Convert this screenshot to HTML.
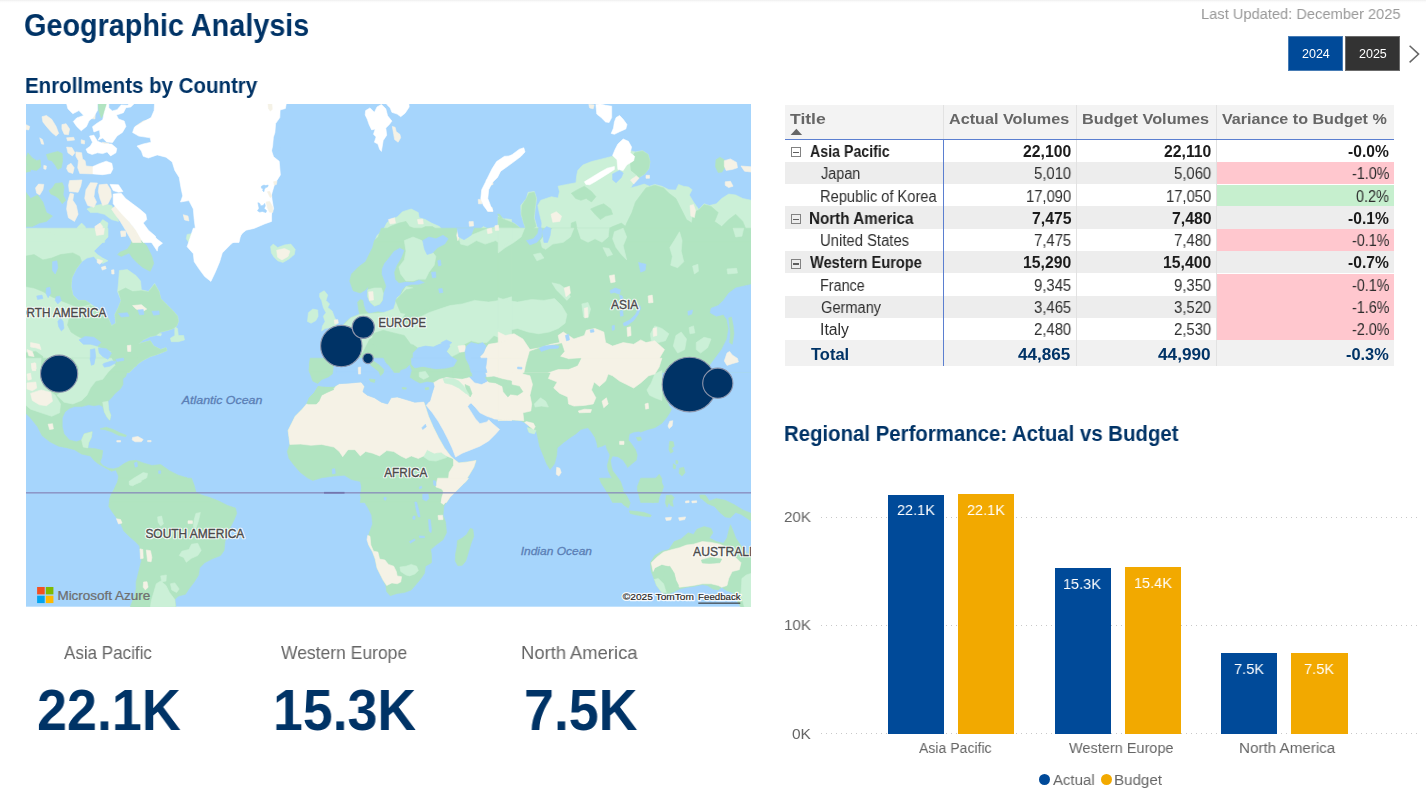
<!DOCTYPE html>
<html lang="en"><head><meta charset="utf-8"><title>Geographic Analysis</title>
<style>
html,body{margin:0;padding:0;background:#fff;}
body{width:1426px;height:796px;position:relative;overflow:hidden;font-family:"Liberation Sans",sans-serif;}
.abs{position:absolute;box-sizing:border-box;}
.t{position:absolute;white-space:nowrap;transform-origin:0 0;display:block;will-change:transform;}
.topline{position:absolute;left:0;top:0;width:1426px;height:3px;background:linear-gradient(#efefef,#fbfbfb 55%,#ffffff);}
.btn{position:absolute;box-sizing:border-box;border:1px solid rgba(255,255,255,.28);}
.grid{position:absolute;left:820.5px;width:600px;height:1px;background:repeating-linear-gradient(90deg,#c8c8c8 0 1px,transparent 1px 5px);}
</style></head>
<body>
<div class="topline"></div>
<span class="t" style="left:23.82px;top:8px;font-size:30.5px;line-height:34px;height:34px;color:#003366;transform:scaleX(0.9438);font-weight:bold;">Geographic Analysis</span>
<span class="t" style="left:1200.60px;top:5px;font-size:15.3px;line-height:17px;height:17px;color:#999999;transform:scaleX(0.9581);">Last Updated: December 2025</span>
<div class="btn" style="left:1288px;top:36px;width:55px;height:35px;background:#004a99;"></div>
<div class="btn" style="left:1345px;top:36px;width:55px;height:35px;background:#333333;"></div>
<span class="t" style="left:1301.66px;top:47px;font-size:12.5px;line-height:14px;height:14px;color:#ffffff;transform:scaleX(0.9849);">2024</span>
<span class="t" style="left:1358.66px;top:47px;font-size:12.5px;line-height:14px;height:14px;color:#ffffff;transform:scaleX(0.9849);">2025</span>
<svg class="abs" style="left:1406px;top:42px" width="18" height="24" viewBox="0 0 18 24"><path d="M3.6 3.8 L12.6 12.1 L3.6 20.4" fill="none" stroke="#666" stroke-width="1.5"/></svg>
<span class="t" style="left:25.37px;top:74px;font-size:21.5px;line-height:24px;height:24px;color:#003366;transform:scaleX(0.9529);font-weight:bold;">Enrollments by Country</span>
<svg class="abs" style="left:26px;top:104px" width="725" height="502.7" viewBox="26 104 725 502.7">
<rect x="26" y="104" width="725" height="502.7" fill="#a6d5fc"/>
<path fill="#cbf0d7" stroke="#cbf0d7" stroke-width=".6" stroke-linejoin="round" d="M86.9,209.0 95.7,205.5 104.4,203.8 111.5,205.5 115.9,212.6 118.5,221.4 111.5,219.6 104.4,214.3 97.4,212.6 90.4,212.6ZM25.3,229.3 37.6,229.3 44.6,231.0 55.2,234.5 64.0,235.4 67.5,238.9 72.8,235.4 78.1,226.6 81.6,223.1 85.1,226.6 86.9,233.7 90.4,237.2 95.7,233.7 97.4,226.6 102.7,219.6 108.0,223.1 106.2,233.7 104.4,242.5 25.3,242.5ZM187.1,234.4 193.3,233.5 194.2,242.3 189.8,244.1 186.3,238.8ZM24.4,228.2 108.0,228.2 108.0,237.0 102.7,242.3 97.4,247.6 93.9,251.1 97.4,254.6 102.7,258.1 108.0,260.8 102.7,263.4 97.4,260.8 93.9,256.4 86.9,258.1 81.6,261.7 76.3,268.7 71.9,277.5 71.0,286.3 72.8,295.1 78.1,300.4 85.1,300.4 90.4,303.9 95.7,307.4 102.7,312.7 108.0,317.9 111.5,325.9 115.9,323.2 115.0,314.4 118.5,307.4 121.2,300.4 117.6,291.6 118.5,282.8 119.4,270.5 127.3,269.6 136.1,275.7 140.5,281.0 141.4,289.8 148.4,291.6 154.6,283.6 159.0,291.6 160.7,298.6 166.0,303.9 173.1,310.9 177.5,316.2 178.3,321.5 176.6,325.9 173.1,328.5 167.8,330.3 160.7,332.0 155.5,335.5 150.2,336.4 143.2,339.9 137.9,344.3 143.2,342.6 150.2,340.8 153.7,346.1 160.7,349.6 166.0,347.8 166.9,350.5 160.7,353.1 155.5,354.9 150.2,356.6 143.2,360.2 137.9,363.7 134.4,367.2 129.1,372.5 24.4,372.5ZM174.8,326.7 177.5,328.5 178.3,335.5 183.6,335.5 184.5,339.9 178.3,341.7 171.3,341.7 170.4,338.2 174.8,335.5ZM156.3,332.9 161.6,333.8 160.7,335.9 156.9,335.2ZM115.9,344.3 125.6,342.6 132.6,345.2 131.7,352.2 123.8,353.1 116.8,351.4ZM374.4,242.5 377.0,235.4 383.2,230.2 386.7,223.1 390.2,219.6 397.2,217.0 402.5,211.7 411.3,209.0 418.3,212.6 419.2,217.8 425.4,219.6 431.5,223.1 439.5,226.6 444.7,233.7 449.1,242.5ZM466.7,242.5 469.4,235.4 478.2,231.0 483.4,226.6 488.7,229.3 495.7,226.6 501.0,221.4 505.4,218.7 511.6,219.6 511.6,242.5ZM270.6,246.7 273.2,244.1 277.6,247.6 284.6,244.9 290.8,244.1 295.2,249.3 294.3,254.6 289.0,259.0 282.9,262.5 277.6,260.8 274.1,257.3 271.4,252.9ZM498.2,216.1 505.3,219.6 514.1,223.1 519.4,227.5 523.8,232.8 526.4,230.2 523.8,223.1 521.1,214.3 520.8,205.5 526.4,198.5 528.1,192.3 534.3,191.5 536.6,198.5 535.2,209.0 534.3,217.8 536.9,226.6 541.3,231.0 541.9,223.1 539.6,214.3 537.8,205.5 540.8,200.3 546.1,198.5 551.4,196.7 558.1,198.1 559.5,191.5 558.1,186.2 566.9,184.4 576.0,182.7 576.7,175.6 577.8,170.4 582.7,165.1 591.5,161.6 602.0,158.9 612.6,156.3 616.1,152.8 623.2,149.2 635.5,151.9 642.5,150.7 648.1,154.5 649.9,161.6 648.8,168.6 644.6,173.9 639.0,177.4 634.1,182.7 630.5,187.9 637.2,186.2 644.3,184.1 649.5,186.2 654.8,184.4 661.9,186.2 668.9,189.7 675.9,190.1 678.6,184.4 683.3,186.2 688.6,187.1 692.1,189.7 689.3,195.0 693.5,202.0 698.8,209.4 704.1,203.8 709.4,205.5 716.4,203.8 721.7,198.5 728.7,194.1 735.7,195.0 742.8,198.5 751.6,200.3 751.6,242.5 498.2,242.5Z"/>
<path fill="#b1e4c1" stroke="#b1e4c1" stroke-width=".6" stroke-linejoin="round" d="M97.8,101.8 107.6,101.8 104.1,113.2 101.3,117.9 98.8,110.6ZM27.9,152.8 32.3,158.0 36.7,160.7 40.2,159.8 40.8,166.8 36.7,170.4 30.6,169.5 27.0,166.0 25.3,159.8ZM25.3,165.4 29.7,166.5 30.6,171.2 25.3,172.5ZM52.5,152.8 57.8,151.4 62.2,153.6 62.6,160.7 61.3,167.7 57.8,169.5 55.2,165.1 51.7,160.7 48.1,159.8 46.4,154.5ZM55.2,183.5 62.2,182.7 64.0,187.1 63.1,195.0 65.7,200.3 62.2,203.8 58.7,198.5 55.2,195.9 50.8,194.1 49.0,190.6 52.5,187.9ZM25.3,191.5 30.6,198.5 37.6,195.0 42.9,202.0 46.4,212.6 52.5,216.1 46.4,221.4 39.4,223.1 32.3,226.6 25.3,226.6ZM132.6,238.8 136.1,237.0 141.4,240.6 146.7,245.8 151.9,256.4 153.7,263.4 150.2,271.3 143.2,267.8 137.9,263.4 132.6,258.1 129.1,252.9 125.6,254.6 121.2,256.4 117.6,254.6 120.3,252.0 127.3,249.3 130.8,244.1ZM24.4,256.4 34.1,254.6 42.9,259.9 51.7,258.1 60.5,254.6 72.8,252.9 79.8,256.4 81.6,261.7 76.3,268.7 71.9,277.5 71.0,286.3 72.8,295.1 78.1,300.4 85.1,300.4 90.4,303.9 78.1,307.4 69.3,303.9 60.5,300.4 51.7,296.8 42.9,291.6 34.1,288.0 24.4,286.3ZM72.8,314.4 78.1,309.1 85.1,307.4 90.4,305.6 95.7,307.4 102.7,312.7 108.0,317.9 111.5,325.9 115.9,323.2 115.0,314.4 118.5,307.4 121.2,300.4 118.5,291.6 125.6,288.0 132.6,291.6 141.4,290.7 148.4,291.9 154.6,284.2 159.0,291.6 160.7,298.6 166.0,303.9 173.1,310.9 177.5,316.2 178.3,321.5 176.6,325.9 173.1,328.5 167.8,330.3 160.7,332.0 155.5,335.5 150.2,336.4 143.2,339.9 137.9,344.3 143.2,342.6 150.2,340.8 153.7,346.1 160.7,349.6 166.0,347.8 166.9,350.5 160.7,353.1 155.5,354.9 150.2,356.6 143.2,360.2 137.9,363.7 134.4,367.2 129.1,372.5 104.4,372.5 102.7,363.7 108.0,356.6 111.5,351.4 104.4,349.6 97.4,346.1 90.4,342.6 83.3,339.0 76.3,335.5 71.0,332.0 67.5,325.0 69.3,317.9ZM24.4,353.1 35.8,351.4 42.9,356.6 41.1,372.5 24.4,372.5ZM24.4,358.2 137.9,358.2 138.2,362.1 136.1,366.2 132.6,367.0 127.7,370.6 125.6,376.7 122.9,378.5 122.9,384.6 120.3,389.0 115.0,393.4 111.5,397.8 108.0,401.3 107.1,405.7 108.8,410.1 110.8,415.4 109.7,420.2 107.1,417.2 104.4,411.9 102.7,406.6 99.2,404.8 93.9,405.7 88.6,404.8 81.6,406.6 74.5,406.6 69.3,408.4 64.9,411.9 62.2,418.0 62.2,426.8 64.0,433.9 69.3,440.0 76.3,441.8 81.6,440.0 84.2,433.9 92.1,431.8 91.3,437.4 88.6,442.7 87.7,447.9 95.7,448.8 102.7,450.6 101.8,457.6 100.0,462.0 102.7,465.5 108.0,468.2 113.2,469.0 118.5,467.6 123.8,463.8 129.1,461.1 136.1,460.3 143.2,462.9 151.9,465.5 160.7,464.6 169.5,470.8 178.3,475.2 187.1,477.8 192.4,483.1 194.2,490.2 197.7,493.7 206.5,497.2 211.8,502.5 110.6,502.5 109.7,498.9 111.5,493.7 115.0,488.4 117.6,483.1 118.5,476.1 115.9,469.9 111.5,471.2 104.4,467.3 98.3,463.8 93.9,460.3 90.4,455.9 81.6,454.1 74.5,449.7 67.5,447.9 58.7,446.2 49.9,441.8 42.0,435.6 37.6,426.8 30.6,418.0 24.4,411.9ZM100.0,428.9 106.2,427.2 113.2,429.5 120.3,433.0 126.4,435.3 125.6,436.7 118.5,435.3 111.5,431.8 104.4,429.6ZM191.5,478.2 194.2,485.3 195.9,492.3 201.2,494.9 210.0,497.6 218.8,501.1 227.6,505.5 235.5,508.1 236.7,513.4 233.8,520.5 230.2,527.5 226.7,534.5 225.0,541.6 224.1,550.4 220.6,555.6 211.8,559.1 204.7,562.7 199.5,567.9 198.6,575.0 194.2,582.0 188.9,589.0 185.4,594.3 178.3,596.1 174.8,599.6 176.2,609.3 129.4,609.3 131.7,603.1 134.4,596.1 136.1,589.0 136.1,582.0 137.9,575.0 139.6,567.9 141.4,560.9 140.5,553.9 139.6,546.0 134.4,540.7 129.1,536.3 123.8,531.0 120.3,523.1 115.9,516.9 111.5,510.8 108.8,506.4 109.7,499.3 112.4,493.2 115.9,485.3 119.4,478.2ZM377.0,240.7 383.2,231.0 390.2,226.6 399.0,223.1 406.0,221.4 409.5,226.6 418.3,230.2 425.4,226.6 432.4,226.6 443.0,233.7 448.2,242.5 376.1,242.5ZM497.5,214.0 499.6,214.3 502.4,218.2 500.1,217.8ZM511.6,228.2 511.6,372.5 310.1,372.5 309.3,363.7 311.0,359.3 318.1,359.3 326.9,360.2 333.9,358.4 335.7,351.4 333.9,342.6 330.4,335.5 327.7,330.6 335.7,328.5 342.7,325.9 346.2,321.5 350.6,317.9 355.0,316.2 359.6,314.4 358.5,309.1 357.6,302.1 360.3,299.5 362.9,300.4 363.8,305.6 365.6,310.9 369.1,313.7 372.6,313.0 377.9,311.8 383.2,312.7 390.2,311.8 393.7,309.1 395.5,303.9 397.2,297.7 400.7,295.1 402.5,289.8 406.0,286.6 411.3,284.9 418.3,284.9 425.4,282.8 419.2,279.6 413.1,281.9 406.0,281.4 399.0,282.8 395.5,279.2 394.6,272.2 397.2,265.2 401.6,258.1 404.6,250.2 399.9,247.6 393.7,251.1 388.4,258.1 384.0,263.4 381.7,268.7 381.4,274.0 384.0,281.0 385.8,286.3 383.2,293.3 382.3,300.4 379.6,304.2 374.4,306.0 370.0,302.1 367.7,296.8 368.2,286.3 365.6,289.8 360.3,293.0 353.2,290.7 349.7,281.0 351.5,274.0 358.5,266.9 365.6,261.7 369.1,254.6 372.6,247.6 374.4,240.6 378.2,237.0 381.4,228.2ZM318.1,386.4 320.7,386.7 333.9,386.4 339.2,383.7 351.5,382.9 361.2,382.0 364.7,386.4 362.9,391.7 367.3,395.2 374.4,397.8 381.4,402.2 387.6,404.0 391.1,397.8 397.2,396.9 406.0,399.6 414.8,402.2 423.6,401.5 425.4,406.6 428.5,416.3 433.1,426.8 438.4,437.4 444.4,447.9 450.4,455.9 453.5,458.8 458.8,462.9 467.6,462.0 476.0,460.6 473.8,467.3 468.5,476.1 462.3,484.9 455.3,491.9 450.0,497.2 446.5,502.5 360.3,502.5 361.2,495.4 362.0,488.4 360.3,481.4 351.5,479.6 344.4,475.2 333.9,476.1 321.6,477.8 312.8,480.5 307.5,477.8 300.5,472.6 294.3,465.5 289.0,458.5 287.3,451.5 289.9,444.4 289.0,437.4 288.1,430.4 291.7,423.3 295.2,416.3 302.2,409.2 306.6,404.0 309.3,397.8 314.5,392.5ZM310.1,358.2 335.7,358.2 333.9,367.0 333.0,374.1 328.6,377.6 321.6,380.2 318.1,383.7 312.8,381.1 311.0,375.8 308.9,370.6ZM408.7,371.4 414.8,367.9 423.6,366.2 434.2,365.3 444.7,367.0 453.5,365.3 462.3,368.8 467.6,367.0 471.1,372.3 469.4,377.6 462.3,379.3 453.5,378.5 446.5,377.6 439.5,379.3 433.3,382.9 427.1,382.0 420.1,383.7 414.8,381.1 409.5,377.6ZM453.5,358.2 471.1,358.2 479.9,368.8 483.4,374.1 478.2,377.6 471.1,375.8 462.3,379.3 453.5,378.5ZM468.5,478.2 465.8,481.8 457.0,488.8 451.8,494.1 447.4,499.3 443.8,506.4 443.0,515.2 445.6,522.2 446.5,532.8 443.0,539.8 435.9,545.1 430.7,549.5 431.5,555.6 431.5,562.7 425.4,566.2 424.5,573.2 421.0,578.5 416.6,583.8 411.3,589.9 404.3,592.6 397.2,593.4 390.2,595.7 386.7,591.7 385.8,585.5 381.4,576.7 377.0,567.9 375.2,559.1 372.6,552.1 368.7,545.1 367.7,538.0 370.0,531.0 372.6,524.0 371.7,515.2 368.2,508.1 363.8,501.1 360.3,495.8 361.7,487.0 361.2,478.2ZM470.2,528.4 472.9,529.2 473.8,536.3 471.1,543.3 468.5,552.1 465.8,560.9 462.3,565.3 457.9,565.8 455.3,560.9 455.6,553.9 457.0,546.8 457.4,540.7 462.3,538.0 466.7,534.5ZM626.7,242.5 623.2,231.9 626.7,223.1 631.9,212.6 635.5,202.0 640.7,195.0 646.0,187.9 654.8,185.3 663.6,187.9 668.9,193.2 675.9,198.5 681.2,209.0 686.5,219.6 691.8,223.1 693.5,212.6 698.8,209.9 704.1,204.6 711.1,206.4 718.2,212.6 714.6,221.4 721.7,226.6 728.7,219.6 735.7,214.3 742.8,221.4 746.3,230.2 751.6,233.7 751.6,242.5ZM522.0,205.5 526.4,198.5 529.0,193.2 534.3,192.3 536.1,198.5 534.8,209.0 533.8,217.8 536.1,226.6 531.7,229.3 526.4,229.8 523.8,223.1 521.5,214.3ZM571.3,193.2 577.4,189.7 584.4,186.2 591.5,191.5 595.9,196.7 591.5,202.0 586.2,198.5 580.9,200.3 575.7,198.5ZM590.6,209.0 598.5,205.5 603.8,203.8 610.8,209.0 612.6,214.3 605.6,216.1 600.3,219.6 595.0,214.3ZM634.6,152.8 642.5,151.0 648.1,154.5 649.9,161.6 648.8,168.6 644.6,173.9 639.0,177.4 635.5,173.9 631.1,170.4 630.2,161.6ZM571.3,223.1 575.7,221.4 577.4,230.2 573.9,240.7 570.4,238.9ZM605.6,230.2 612.6,226.6 621.4,223.1 625.8,226.6 623.2,237.2 616.1,242.5 607.3,242.5ZM498.2,217.0 505.3,219.9 514.1,223.5 519.4,227.5 522.9,232.8 521.1,242.5 498.2,242.5ZM716.0,159.8 719.9,157.2 724.3,159.8 725.2,166.8 722.0,172.1 718.2,172.5 715.5,166.8ZM498.2,228.2 751.6,228.2 751.6,372.5 498.2,372.5ZM498.2,358.2 661.9,358.2 661.9,384.6 665.4,395.2 668.9,405.7 671.5,409.2 669.8,412.8 666.3,418.0 661.9,423.3 654.8,427.7 647.8,429.5 640.7,432.1 639.0,431.2 633.7,432.1 629.3,433.9 628.4,440.0 631.9,444.4 635.5,449.7 637.2,455.0 636.3,460.3 631.9,463.8 627.6,467.6 626.7,465.5 623.2,460.3 617.9,456.7 612.6,455.9 610.5,460.3 611.2,465.5 612.6,470.8 616.1,475.2 620.5,481.4 622.3,486.6 623.5,489.8 621.4,489.4 617.9,485.8 614.4,481.4 610.8,476.1 608.2,470.8 607.3,465.5 608.7,460.3 610.0,455.0 607.3,449.7 605.6,444.4 602.0,446.2 597.6,447.4 596.8,442.7 595.0,437.4 591.5,432.1 588.0,427.7 584.4,428.6 580.9,429.5 575.7,433.9 570.4,437.4 563.3,442.7 557.2,447.9 556.7,455.0 554.5,463.8 550.1,469.4 546.6,463.8 543.1,455.0 539.6,446.2 537.8,437.4 536.1,430.4 533.4,429.5 531.7,433.0 528.1,431.2 529.0,426.0 524.6,422.4 521.1,420.7 510.6,419.8 498.2,420.7ZM636.3,437.4 640.7,437.0 641.6,440.0 638.1,440.9ZM669.8,441.3 673.3,441.8 674.2,446.2 671.5,447.9 673.3,451.5 670.7,453.2 668.9,449.7 669.2,444.4ZM675.9,460.3 678.0,461.1 677.7,463.8 675.9,463.4ZM679.5,468.2 683.8,467.3 685.1,472.6 682.1,476.1 679.1,473.4ZM673.3,463.8 675.9,465.5 675.1,469.0 673.3,468.2ZM599.4,478.2 603.8,479.6 609.1,484.9 614.4,491.0 619.6,498.9 622.3,502.5 612.6,502.5 609.1,495.4 604.7,488.4 601.2,483.1ZM637.2,489.3 642.5,486.6 649.5,484.0 654.8,479.6 659.2,474.3 661.0,477.0 661.9,483.1 663.6,486.6 661.9,491.9 659.2,497.2 658.3,502.5 640.7,502.5 639.0,495.4ZM699.7,495.4 705.0,495.1 705.8,498.1 700.6,498.6ZM666.3,495.4 669.8,496.3 671.5,500.7 667.1,500.7ZM600.3,478.2 612.6,478.2 619.6,487.0 626.7,495.8 630.2,502.9 628.4,508.1 623.2,504.6 617.9,497.6 612.6,490.6 607.3,485.3 602.9,481.8ZM629.3,510.8 635.5,511.3 644.3,512.5 651.3,515.2 650.4,516.9 642.5,516.1 635.5,514.8 630.2,513.4ZM640.7,478.2 661.9,478.2 661.0,487.0 659.2,494.1 655.7,501.1 653.1,502.9 647.8,500.2 642.5,497.6 639.0,492.3 637.2,487.0ZM666.3,495.8 671.5,494.9 674.2,497.6 672.4,501.1 673.3,506.4 670.7,505.5 668.9,502.0 667.1,507.3 665.4,502.9ZM700.6,494.9 705.8,495.8 709.4,501.1 716.4,498.5 725.2,500.2 734.0,504.6 742.8,509.9 751.6,513.4 751.6,521.3 746.3,517.8 741.0,514.3 735.7,512.5 730.5,517.8 725.2,516.9 719.9,512.5 714.6,506.4 707.6,503.7 702.3,499.3ZM650.4,562.7 654.8,555.6 661.9,551.2 668.9,549.5 674.2,541.6 681.2,538.9 688.2,532.8 693.5,534.5 697.0,529.2 704.1,526.6 711.1,528.4 712.9,532.8 709.4,538.0 716.4,541.6 723.4,543.3 727.0,538.0 728.7,531.0 730.5,524.8 733.1,531.0 735.7,538.0 739.3,543.3 744.5,550.4 751.6,557.4 751.6,609.3 741.0,607.5 737.5,601.4 732.2,592.6 727.0,590.8 721.7,587.3 718.2,589.9 712.9,589.0 707.6,585.5 702.3,584.6 693.5,586.4 686.5,587.3 679.5,589.0 672.4,592.6 667.1,594.3 661.9,592.6 656.6,585.5 653.9,578.5 651.3,571.5Z"/>
<path fill="#cbf0d7" stroke="#cbf0d7" stroke-width=".6" stroke-linejoin="round" d="M72.8,358.2 111.5,358.2 115.0,365.3 108.0,372.3 102.7,379.3 95.7,381.1 90.4,388.1 86.9,395.2 81.6,400.5 72.8,404.0 64.0,402.2 56.9,395.2 78.1,381.1 78.9,367.0ZM24.4,358.2 41.1,358.2 40.2,374.1 42.9,386.4 55.2,395.2 60.5,404.0 59.6,412.8 51.7,416.3 41.1,412.8 30.6,409.2 24.4,404.0ZM129.1,481.4 134.4,477.8 143.2,472.6 147.6,473.4 146.7,477.8 139.6,481.4 132.6,485.8 129.4,484.9ZM102.7,402.2 108.0,401.3 108.8,410.1 110.8,415.4 109.7,420.2 107.1,417.2 104.4,411.9ZM81.6,440.0 84.2,433.9 92.1,431.8 91.3,437.4 88.6,442.7 87.7,447.9 83.3,447.1ZM156.3,583.8 160.7,581.1 166.0,585.5 169.5,592.6 174.8,599.6 175.7,609.3 150.2,609.3 151.1,601.4 153.7,592.6ZM157.6,516.9 161.6,516.1 163.4,524.0 160.7,526.1 158.1,522.2ZM195.9,513.4 200.3,512.5 198.6,520.5 195.9,528.4 193.3,526.6 194.2,519.6ZM191.5,544.2 197.7,543.3 201.2,550.4 197.7,555.6 191.5,558.3 186.3,562.3 183.6,557.4 179.2,555.6 181.9,551.2 188.9,549.5ZM160.7,575.9 166.4,575.0 166.0,581.1 161.6,582.0ZM170.4,583.8 174.8,582.9 179.2,589.0 176.6,592.6 171.7,589.9ZM129.4,481.4 139.6,479.1 141.4,481.8 132.6,485.3ZM404.3,240.6 413.1,237.0 421.9,240.6 428.9,247.6 435.9,256.4 434.2,265.2 428.9,272.2 425.4,279.2 418.3,279.2 413.1,281.0 406.0,281.0 400.7,274.0 399.0,266.9 404.3,259.9 406.0,251.1ZM393.7,328.5 400.7,325.0 411.3,323.2 418.3,317.9 428.9,312.7 439.5,309.1 450.0,305.6 462.3,303.9 474.6,300.4 488.7,302.1 499.3,300.4 511.6,296.8 511.6,335.5 502.8,339.0 494.0,335.5 487.0,342.6 478.2,342.6 471.1,340.8 464.1,344.3 458.8,353.1 451.8,356.6 446.5,351.4 450.0,346.1 444.7,342.6 439.5,344.3 433.3,347.0 425.4,346.1 418.3,347.8 413.1,344.3 406.0,342.6 400.7,335.5ZM367.7,289.8 374.4,288.0 381.4,288.0 383.2,293.3 382.3,300.4 379.6,304.2 374.4,306.0 370.0,302.1 367.7,296.8ZM458.8,237.0 471.1,235.3 488.7,228.2 511.6,228.2 511.6,240.6 502.8,245.8 495.7,240.6 485.2,244.1 476.4,240.6 467.6,245.8 460.6,244.1ZM342.7,325.9 350.6,317.9 359.6,314.4 369.1,313.7 383.2,312.7 393.7,309.1 397.2,297.7 400.7,295.1 406.0,286.6 413.1,288.0 414.8,296.8 411.3,305.6 406.0,312.7 400.7,319.7 397.2,325.0 393.7,328.5 400.7,335.5 397.2,342.6 390.2,344.3 383.2,342.6 376.1,335.5 369.1,339.0 365.6,346.1 362.0,353.1 335.7,351.4 333.9,342.6 330.4,335.5 327.7,330.6 335.7,328.5ZM319.8,293.3 324.2,290.7 327.7,295.1 326.0,300.4 329.5,303.9 327.7,307.4 332.1,310.9 334.8,317.9 337.4,321.5 335.7,325.9 330.4,327.6 325.1,328.5 321.6,331.1 322.5,325.9 325.1,321.5 323.3,316.2 326.0,312.7 323.3,307.4 321.6,300.4 319.5,296.8ZM308.4,312.7 312.8,309.1 317.7,310.0 318.1,316.2 315.9,320.6 311.0,323.2 307.5,321.5ZM424.5,450.6 430.7,449.7 435.9,453.2 444.7,452.3 446.5,457.6 435.9,461.1 428.9,460.3 423.6,456.7ZM419.2,372.3 425.4,371.4 428.9,376.7 423.6,379.3 419.2,376.7ZM399.9,567.1 406.0,566.2 411.3,564.4 416.6,566.2 418.3,570.6 414.8,574.1 409.5,575.9 406.0,575.0 400.7,571.5ZM498.2,228.2 524.6,228.2 521.1,237.0 514.1,242.3 505.3,247.6 498.2,252.9ZM540.5,240.6 545.7,233.5 552.8,228.2 573.9,228.2 570.4,237.0 563.3,242.3 552.8,244.1 545.7,249.3 542.2,247.6ZM577.4,228.2 609.1,228.2 608.2,237.0 602.0,242.3 595.0,238.8 588.0,242.3 580.9,238.8ZM614.4,231.8 623.2,228.2 626.7,237.0 623.2,245.8 626.7,259.9 621.4,254.6 616.1,247.6 612.6,238.8ZM602.9,247.6 609.1,248.5 612.6,254.6 607.3,256.4ZM533.4,254.6 540.5,252.9 544.0,258.1 536.9,260.8ZM674.2,240.6 679.5,231.8 682.1,240.6 681.2,251.1 683.8,261.7 677.7,267.8 670.7,265.2 672.4,256.4 669.8,247.6ZM692.6,266.1 697.9,264.3 698.5,271.3 694.4,274.0ZM727.0,269.0 736.6,268.3 737.5,273.1 727.8,274.0ZM733.1,228.2 743.7,228.2 741.9,236.2 735.7,237.0ZM498.2,297.7 507.0,300.4 517.6,302.1 531.7,299.5 544.0,300.4 554.5,298.6 561.6,305.6 566.9,314.4 565.1,323.2 558.1,328.5 549.3,332.0 538.7,333.8 528.1,332.0 517.6,328.5 508.8,330.3 498.2,328.5ZM551.9,282.8 559.8,284.5 566.9,289.8 570.4,296.8 566.9,300.4 561.6,295.1 556.3,289.8ZM581.8,303.9 588.0,302.5 590.6,309.1 588.0,317.9 583.6,317.1ZM675.9,335.5 681.2,332.0 686.5,339.0 684.7,349.6 677.7,353.1 673.3,346.1ZM696.2,342.6 704.1,337.3 711.1,339.0 707.6,347.8 700.6,353.1 696.2,349.6ZM689.1,327.6 693.5,325.9 694.9,332.9 690.0,333.8ZM650.4,333.8 654.8,325.9 661.9,328.5 668.9,333.8 665.4,340.8 658.3,342.6 651.3,340.8ZM654.8,374.1 661.9,370.6 661.9,400.5 654.8,397.8 649.5,395.2 646.9,389.9 651.3,382.9ZM534.3,404.0 540.5,397.8 545.7,401.3 548.4,407.1 541.3,406.1 535.2,407.1ZM527.3,427.7 533.4,429.5 536.1,430.4 534.3,433.9 529.0,432.5ZM523.8,363.5 529.9,361.8 535.2,367.0 529.9,370.6 524.6,368.8Z"/>
<path fill="#b1e4c1" stroke="#b1e4c1" stroke-width=".6" stroke-linejoin="round" d="M372.6,333.8 383.2,330.3 393.7,332.9 404.3,335.5 409.5,342.6 414.8,353.1 409.5,360.2 400.7,363.7 393.7,360.2 386.7,353.1 379.6,349.6 372.6,344.3ZM395.5,300.4 406.0,289.8 414.8,288.0 427.1,289.8 439.5,288.0 446.5,293.3 443.0,300.4 435.9,305.6 427.1,309.1 418.3,312.7 409.5,314.4 400.7,312.7Z"/>
<path fill="#f5f2e6" stroke="#f5f2e6" stroke-width=".6" stroke-linejoin="round" d="M135.2,126.4 143.2,121.1 150.5,119.0 149.8,123.7 141.4,128.1 136.1,129.5ZM183.3,214.7 188.0,216.1 188.9,221.0 184.5,219.9ZM84.7,103.2 91.8,103.5 92.5,108.4 86.9,108.8ZM89.0,112.7 95.3,113.4 94.9,119.0 90.0,118.3ZM102.3,142.2 108.8,143.3 108.0,149.6 102.7,148.5ZM42.0,116.7 46.4,115.5 51.7,119.3 56.1,126.4 58.7,133.4 56.1,136.1 51.7,132.5 46.4,126.4 42.9,122.0ZM61.9,124.6 66.1,123.7 69.6,129.0 68.4,134.8 64.3,134.3 61.9,129.0ZM66.6,137.8 73.7,137.3 74.5,140.1 67.5,140.8ZM81.2,139.7 84.7,140.8 84.4,144.0 81.2,143.3ZM25.3,124.3 29.7,126.4 28.8,129.9 25.3,129.5ZM39.7,137.8 42.5,139.6 43.8,144.3 41.5,144.0ZM66.6,147.1 71.9,147.5 74.9,152.8 72.4,155.9 67.9,152.8ZM75.9,151.9 81.6,152.8 82.5,158.9 85.1,160.7 86.0,166.0 93.9,166.8 93.0,173.9 79.8,173.5 77.7,167.7 78.4,160.7 75.9,156.3ZM67.5,165.4 71.0,163.3 74.2,167.7 72.8,173.5 68.4,172.1 66.6,168.6ZM43.8,165.4 46.4,166.0 46.0,169.3 43.8,168.9ZM69.6,180.6 81.9,180.0 80.7,186.2 78.1,192.3 69.3,191.5 68.6,185.3ZM35.5,187.9 38.5,184.1 43.8,184.4 42.9,189.7 39.7,195.0 36.7,193.2ZM90.4,182.7 97.4,183.0 94.8,189.7 93.9,196.7 96.5,202.0 93.9,207.3 87.7,205.5 84.7,198.5 86.0,189.7ZM99.2,184.8 107.1,184.1 110.6,189.7 111.5,196.7 108.0,203.8 102.7,205.5 100.0,198.5 98.3,191.5ZM115.9,205.5 123.8,212.6 129.1,221.4 136.1,230.2 141.4,242.5 132.6,242.5 125.6,230.2 120.3,221.4 115.0,214.3 111.5,209.0ZM70.1,193.2 73.7,194.1 72.8,200.3 76.3,205.5 78.1,214.3 74.5,221.4 68.4,217.8 66.6,209.0 67.5,202.0ZM121.2,231.0 125.6,231.6 125.6,236.3 121.7,236.3ZM94.8,226.6 100.0,223.1 102.7,226.6 100.9,233.7 96.5,235.4ZM132.6,228.2 143.2,228.2 144.9,237.0 141.4,240.6 136.1,237.0ZM120.6,231.4 125.2,230.9 125.6,235.6 121.2,236.7ZM95.7,228.2 104.4,228.2 103.6,234.4 97.4,235.3ZM101.3,267.3 105.3,266.1 106.2,268.7 102.3,270.1ZM111.5,270.1 113.9,269.7 114.1,274.0 111.8,274.0ZM97.4,259.0 102.7,260.8 100.0,264.3 97.1,262.5ZM127.3,345.6 130.8,345.2 130.8,351.4 127.7,351.4ZM132.6,305.6 141.4,304.7 146.7,309.1 143.2,311.3 136.1,309.1ZM30.6,342.6 39.4,344.3 41.1,349.6 35.8,347.8 30.6,347.0ZM27.0,349.6 32.3,351.4 34.1,356.6 28.8,355.8ZM31.4,363.7 35.0,362.8 35.8,370.7 32.3,370.7ZM27.0,374.1 30.6,373.2 31.4,379.3 27.9,380.2ZM27.0,382.9 35.8,382.0 36.7,388.1 32.3,390.8 27.0,389.0ZM30.6,393.4 41.1,389.9 50.8,392.5 52.5,401.3 46.4,405.7 39.4,404.8 32.3,400.5ZM48.1,424.2 52.5,423.7 53.4,428.9 49.6,429.5ZM31.4,363.5 35.8,363.2 36.2,368.8 32.0,369.1ZM132.6,437.4 137.9,436.5 143.2,439.5 141.4,441.8 135.2,441.8 132.2,440.0ZM116.8,440.6 120.6,440.6 120.6,442.0 116.8,442.0ZM147.6,440.6 151.1,440.6 151.1,441.8 147.6,441.8ZM116.4,518.7 120.6,519.6 122.0,523.1 118.5,524.0ZM140.0,548.9 142.8,549.5 143.2,558.3 140.5,558.8ZM146.3,550.0 150.5,550.7 151.9,557.4 151.1,561.8 147.6,561.3ZM143.5,582.0 147.0,581.7 148.1,587.3 145.3,589.9 143.2,587.3ZM188.0,520.8 192.4,520.8 192.4,523.6 188.0,523.6ZM392.3,126.4 395.1,127.3 396.3,131.7 399.9,134.3 400.7,137.8 398.1,142.2 394.6,139.6 393.7,134.3ZM486.1,180.0 492.2,179.1 493.1,184.4 487.8,186.2ZM478.2,199.4 481.7,199.4 482.0,203.8 478.5,203.8ZM487.0,207.3 492.2,207.6 492.6,211.5 487.3,211.2ZM388.4,219.6 394.6,217.8 395.5,223.1 390.2,224.0ZM417.5,219.6 422.7,219.2 423.3,224.0 418.3,224.0ZM469.0,221.7 473.2,221.4 473.6,225.9 469.4,226.3ZM457.9,229.8 462.3,229.3 463.2,233.7 459.7,235.4 457.9,240.7 456.7,235.4ZM487.0,229.3 491.4,228.0 492.2,232.8 487.8,233.7ZM494.9,225.8 498.4,225.2 498.9,230.2 495.4,230.5ZM276.7,250.2 284.6,248.5 289.9,251.1 288.1,256.4 282.0,259.9 277.6,257.3ZM368.7,291.9 372.9,291.6 373.5,300.0 369.4,300.4ZM488.7,344.3 499.3,342.6 511.6,339.0 511.6,372.5 487.0,372.5 486.1,368.9 482.6,363.7 479.9,356.6 483.4,353.1 486.1,347.8ZM457.9,346.1 465.0,345.2 465.8,351.4 459.7,352.2ZM334.2,320.1 337.8,319.7 338.3,323.2 334.8,324.1ZM306.6,404.0 316.3,404.0 318.9,401.3 321.6,395.2 326.9,392.5 333.9,389.0 335.7,386.4 339.2,383.7 351.5,382.9 361.2,382.0 364.7,386.4 362.9,391.7 367.3,395.2 374.4,397.8 381.4,402.2 387.6,404.0 391.1,397.8 397.2,396.9 406.0,399.6 414.8,402.2 423.6,401.5 425.4,406.6 428.5,416.3 433.1,426.8 438.4,437.4 444.4,447.9 450.4,455.9 453.5,458.8 446.5,455.9 441.2,452.3 434.2,453.2 427.1,449.7 423.6,455.9 418.3,458.5 411.3,455.9 406.0,458.5 400.7,455.9 393.7,451.5 386.7,450.6 379.6,455.9 372.6,453.2 365.6,451.5 360.3,455.9 355.0,449.7 348.0,449.7 342.7,456.7 339.2,451.5 333.9,447.1 321.6,444.4 311.0,445.3 300.5,444.1 289.9,444.4 289.0,437.4 288.1,430.4 291.7,423.3 295.2,416.3 302.2,409.2ZM453.5,458.8 458.8,462.9 467.6,462.0 476.0,460.6 473.8,467.3 468.5,476.1 462.3,484.9 455.3,491.9 450.0,497.2 446.5,502.5 441.2,502.5 443.0,493.7 443.8,486.6 448.2,481.4 449.1,472.6 453.5,465.5ZM426.3,405.4 429.8,401.3 431.5,395.2 434.2,386.4 433.3,382.9 439.5,379.3 446.5,377.6 453.5,378.5 462.3,379.3 465.8,384.6 467.6,395.2 469.4,404.0 467.6,406.6 471.1,411.9 475.5,418.9 479.9,423.7 487.0,421.9 488.7,419.8 492.2,423.3 499.6,429.5 495.7,433.9 488.7,440.9 479.9,446.2 471.1,449.7 462.3,453.2 455.6,457.1 452.1,447.9 447.9,439.1 443.5,430.4 438.4,421.6 432.4,412.8ZM462.3,379.3 469.4,377.6 474.6,382.9 481.7,384.6 488.7,381.1 495.7,379.3 502.8,382.9 511.6,384.6 511.6,420.7 502.8,419.8 494.0,418.9 492.2,418.0 487.0,416.3 479.9,412.8 475.5,407.5 471.1,403.1 469.4,404.0 467.6,395.2 465.8,384.6ZM487.0,358.2 511.6,358.2 511.6,381.1 502.8,379.3 494.0,376.7 487.0,377.6 485.2,370.6ZM437.7,478.2 468.5,478.2 465.8,481.8 457.0,488.8 451.8,494.1 447.4,499.3 443.8,504.6 441.2,502.9 442.1,496.7 444.7,492.3 441.2,488.8 435.9,487.0 436.8,481.8ZM438.0,515.5 442.6,515.2 443.0,519.6 438.6,519.7ZM367.7,535.4 370.0,536.3 370.8,545.1 373.5,551.2 377.9,552.1 379.6,559.1 384.9,560.0 388.4,564.4 393.7,566.2 396.3,571.5 397.2,575.9 401.6,576.7 400.7,582.0 397.2,583.8 391.9,582.9 386.7,585.5 383.2,580.3 379.6,573.2 377.0,567.9 375.2,559.1 372.6,552.1 368.7,545.1 367.0,539.8ZM588.8,104.4 594.1,104.9 593.2,108.8 589.7,107.9ZM551.0,214.3 556.3,211.7 561.6,216.1 559.8,221.4 552.8,222.2ZM690.0,205.5 693.5,204.6 695.6,210.8 694.4,217.5 690.9,216.1ZM630.5,180.0 636.3,176.0 639.0,178.3 633.7,184.1ZM646.0,175.3 649.5,175.3 649.5,178.3 646.0,178.3ZM724.3,160.7 730.5,158.9 736.6,162.4 737.5,167.7 732.2,169.5 726.1,170.4 724.3,166.0ZM741.0,166.0 751.6,166.8 751.6,172.1 744.5,171.2ZM725.2,181.8 730.5,181.3 733.1,186.2 728.7,187.6 725.2,185.3ZM498.2,332.0 505.3,335.5 514.1,333.8 522.9,339.0 529.9,349.6 540.5,347.8 551.0,344.3 559.8,342.6 558.1,335.5 563.3,332.0 573.9,339.0 584.4,335.5 586.2,330.3 595.0,328.5 603.8,332.0 605.6,342.6 612.6,346.1 623.2,342.6 633.7,344.3 640.7,339.9 646.0,342.6 654.8,340.8 664.5,349.6 658.3,360.2 654.8,372.5 498.2,372.5ZM564.2,288.0 569.5,286.3 570.4,293.3 566.0,296.8ZM609.4,275.7 614.4,274.8 615.2,281.9 610.8,282.8ZM648.1,296.0 652.2,295.1 653.1,302.5 648.7,303.0ZM584.4,308.3 587.6,307.4 588.0,317.1 584.8,317.9ZM627.0,327.6 630.5,326.7 631.1,335.5 627.6,336.4ZM653.1,328.5 656.6,327.6 656.9,335.5 653.4,336.4ZM669.8,421.2 672.8,420.7 672.1,426.0 669.2,428.6 668.0,426.0ZM556.7,467.3 559.8,468.2 561.2,472.6 558.9,476.1 556.3,474.3ZM498.2,358.2 524.6,358.2 521.1,367.0 522.9,374.1 529.9,375.8 532.5,384.6 529.9,395.2 531.7,404.0 530.8,411.0 522.9,412.8 523.8,420.7 510.6,419.8 498.2,420.7ZM526.4,421.6 533.4,423.3 535.2,426.8 533.4,429.5 529.0,426.0 524.6,422.4ZM558.1,365.3 566.9,367.0 577.4,363.5 580.9,358.2 661.9,358.2 659.2,367.0 654.8,374.1 648.7,375.8 640.7,382.9 633.7,388.1 626.7,384.6 619.6,381.1 612.6,375.8 608.2,374.1 605.6,381.1 599.4,386.4 594.1,382.0 591.5,389.9 595.9,397.8 593.2,404.0 584.4,405.4 573.9,406.1 568.6,404.0 567.7,396.9 559.8,393.4 553.7,388.1 557.2,382.0 548.4,378.5 551.0,372.3ZM602.0,401.3 606.4,397.8 608.2,404.0 603.8,407.8ZM578.3,411.0 584.4,409.2 591.5,409.6 590.6,412.4 579.2,412.8ZM645.1,404.0 648.1,403.1 648.7,408.4 645.7,409.2ZM619.6,441.3 624.0,441.3 624.0,444.4 619.6,444.4ZM723.4,361.8 728.7,360.0 734.0,358.2 734.9,361.8 728.7,364.4 724.3,365.3ZM665.4,517.8 671.5,517.3 670.7,520.1 666.3,520.5ZM678.6,517.8 685.6,516.9 684.7,519.6 679.5,520.5ZM685.6,501.1 689.1,500.8 689.1,502.5 685.6,502.9ZM691.8,501.1 696.7,500.8 696.7,502.5 692.1,502.9ZM651.3,562.7 656.6,557.4 663.6,552.1 672.4,549.5 679.5,547.7 686.5,545.1 693.5,544.2 702.3,541.6 711.1,542.4 719.9,544.2 725.2,546.8 728.7,553.9 735.7,557.4 741.0,562.7 739.3,569.7 732.2,571.5 728.7,578.5 727.0,585.5 721.7,587.3 718.2,585.5 711.1,583.8 702.3,583.8 693.5,585.5 686.5,586.4 679.5,587.3 675.9,580.3 674.2,573.2 668.9,566.2 661.9,564.4 654.8,567.9 653.1,571.5Z"/>
<path fill="#ffffff" stroke="#ffffff" stroke-width=".6" stroke-linejoin="round" d="M271.6,101.8 271.6,221.4 264.5,224.0 254.0,228.4 246.1,230.2 240.8,234.5 239.0,242.5 195.9,242.5 195.6,230.2 194.2,219.6 193.3,209.0 188.9,200.6 180.5,202.0 182.7,195.9 181.0,187.9 179.2,177.4 174.8,170.4 172.2,161.9 166.0,157.2 157.2,154.9 148.4,158.0 143.2,156.3 141.4,151.0 137.0,146.1 143.2,144.0 151.1,142.2 150.2,137.8 138.8,136.1 132.6,132.5 134.4,127.3 143.2,122.0 151.1,117.6 154.1,110.6 154.6,101.8ZM97.4,101.8 97.4,110.6 93.0,117.6 89.0,120.8 86.5,126.4 81.2,130.8 76.7,126.4 73.3,121.5 76.7,117.9 83.7,115.5 78.9,110.6 72.8,113.7 67.9,108.8 66.1,101.8ZM108.8,101.8 108.8,107.9 112.4,110.9 117.1,109.7 121.2,104.9 127.3,105.3 132.6,101.8 136.1,101.8 130.8,107.0 125.9,107.7 123.4,112.7 116.4,115.1 118.5,119.0 124.2,121.1 125.9,126.4 122.4,132.4 117.1,135.9 112.5,142.6 106.6,141.9 102.7,138.0 98.1,140.1 100.2,136.2 99.5,129.9 93.9,132.0 92.5,126.7 97.1,123.2 102.7,119.7 104.1,113.2 107.6,101.8ZM89.5,136.1 93.9,135.2 97.4,141.3 104.4,144.0 111.5,144.0 116.8,148.4 115.9,152.8 110.6,155.9 107.1,151.9 102.7,153.6 97.4,152.8 92.1,154.5 87.7,152.8 86.0,149.2 90.4,146.1 92.5,142.2ZM93.0,166.5 99.2,163.7 106.2,161.2 111.8,163.3 112.9,168.9 110.6,173.5 102.7,174.7 93.0,173.9ZM110.1,184.4 118.5,184.8 122.9,191.5 118.5,192.3 113.2,190.6ZM113.2,194.1 121.2,193.2 125.6,198.5 132.6,203.8 139.6,209.0 145.8,214.3 146.7,219.6 143.2,223.1 148.4,230.2 155.5,236.3 156.3,242.5 143.2,242.5 136.1,230.2 129.1,221.4 123.8,216.1 117.6,209.0 113.2,203.8ZM245.2,228.2 239.9,237.0 231.1,244.1 222.3,252.9 219.7,261.7 215.3,272.2 210.9,281.4 204.7,276.6 199.5,269.6 194.2,261.7 193.3,253.7 187.1,246.7 189.8,238.8 193.3,228.2ZM143.2,228.2 150.2,233.5 159.0,240.6 162.5,243.2 158.1,246.7 157.2,251.1 153.7,245.8 150.2,240.6 144.9,237.0ZM255.0,100.0 286.2,100.0 286.2,104.0 285.4,108.5 280.1,110.0 279.8,117.6 275.6,123.6 274.9,132.6 273.4,137.2 272.6,146.2 271.5,150.7 273.6,156.8 279.2,161.3 280.4,174.9 274.7,183.9 271.3,195.2 273.6,208.8 270.2,216.7 262.3,223.4 255.0,227.0ZM365.6,110.6 370.0,107.9 374.4,112.3 377.0,107.0 381.4,104.4 385.8,108.8 387.6,115.8 391.9,121.1 389.3,124.6 385.8,128.1 386.7,135.2 383.2,140.5 381.4,151.4 379.6,149.2 377.9,144.0 374.4,142.2 376.1,136.9 373.5,134.3 375.2,129.0 371.7,129.9 369.1,124.6 367.3,119.3 365.2,114.9ZM386.7,104.4 393.7,102.1 408.7,102.1 409.2,107.0 405.1,113.2 400.7,116.7 397.2,114.1 391.9,112.3 390.2,107.9ZM504.5,156.3 511.6,155.9 511.6,160.7 505.4,164.2 501.0,170.4 497.5,177.4 492.2,182.7 488.7,189.7 487.8,198.5 490.5,205.5 493.1,211.2 487.8,211.2 483.4,205.5 480.8,198.5 481.7,189.7 485.2,182.7 488.7,175.6 492.2,168.6 496.6,161.6ZM498.2,161.6 505.3,158.0 512.3,154.5 519.4,149.2 523.8,147.8 525.0,151.9 521.1,156.3 514.1,161.6 507.0,166.8 501.8,170.4 498.2,172.5ZM595.9,104.4 600.3,103.9 605.6,105.3 611.7,106.2 611.7,117.6 609.1,122.5 605.6,122.0 601.2,117.6 596.8,114.1ZM616.1,117.6 619.6,115.5 623.2,119.3 627.0,124.6 625.8,129.0 619.6,131.7 614.4,134.3 611.2,133.4 613.5,128.1 614.4,122.0ZM615.2,149.2 617.9,144.0 623.2,139.0 628.4,141.3 631.6,147.1 630.2,152.8 634.6,156.3 633.7,160.7 626.7,165.1 623.2,170.4 617.9,169.5 617.0,159.8 612.6,155.4ZM584.4,181.8 591.5,177.4 600.3,172.1 607.3,168.2 614.4,166.5 614.4,169.5 609.1,173.0 602.0,177.4 595.0,181.8 589.7,184.8 585.9,184.4Z"/>
<path fill="#a6d5fc" stroke="#a6d5fc" stroke-width=".6" stroke-linejoin="round" d="M78.9,339.9 85.1,336.4 93.9,337.3 100.9,342.6 97.4,346.1 90.4,344.3 83.3,344.3ZM90.4,349.6 94.8,348.7 95.7,356.6 93.9,363.7 90.4,360.2ZM98.3,347.8 106.2,348.7 111.5,353.1 108.0,359.3 102.7,356.6 99.2,353.1ZM102.7,364.5 111.5,361.9 115.9,362.8 109.7,366.3 104.4,367.2ZM115.9,359.3 123.4,358.0 123.8,360.5 116.8,361.6ZM57.8,321.5 60.5,317.9 63.1,321.5 64.0,328.5 61.3,331.1 58.7,326.7ZM46.4,288.0 49.9,287.2 50.8,293.3 48.1,297.7 46.0,293.3ZM56.1,296.8 59.6,296.0 61.3,300.4 57.8,303.9 55.2,300.4ZM52.5,261.7 56.9,260.8 57.8,267.8 55.2,274.0 52.5,270.5ZM36.7,296.0 42.0,295.1 42.9,298.6 37.6,299.5ZM118.5,313.5 127.3,312.7 129.1,316.2 121.2,317.1ZM137.9,310.0 143.2,309.5 144.0,314.4 139.6,314.8ZM151.9,311.3 159.0,310.9 159.3,314.4 153.7,315.3ZM90.0,358.2 94.8,358.2 93.9,364.4 91.3,365.3ZM103.6,363.5 111.5,360.9 115.9,361.4 110.6,364.4 105.3,365.6ZM134.4,462.9 137.0,462.0 137.5,466.4 135.2,467.3ZM158.6,470.8 160.7,470.8 160.7,473.4 158.6,473.4ZM261.4,186.3 263.9,185.1 265.7,185.6 268.2,185.1 267.6,186.9 265.7,187.5 264.4,189.3 263.9,191.8 262.6,190.6 263.2,188.8 261.4,188.1ZM257.9,202.7 259.7,203.4 260.9,205.9 263.4,205.2 264.7,203.4 265.3,205.9 264.1,208.3 266.6,210.8 265.9,212.6 262.2,211.4 259.7,212.1 257.5,210.8 259.1,208.3ZM275.8,138.0 277.4,136.3 279.5,138.4 281.2,139.3 280.8,141.3 279.5,140.5 278.7,139.3 277.1,139.3ZM274.3,150.1 275.9,147.9 278.0,149.2 280.1,147.1 280.3,149.6 278.4,151.3 275.9,153.4 274.6,152.1ZM422.7,240.6 428.9,237.0 435.9,238.8 443.0,235.3 448.2,238.8 444.7,244.1 437.7,247.6 432.4,252.9 427.1,254.6 424.5,249.3ZM457.0,228.2 473.8,228.2 471.1,235.3 464.1,239.7 458.8,237.0ZM431.5,272.2 435.6,271.9 435.9,277.5 432.4,277.8ZM437.7,260.8 440.3,259.9 441.2,265.2 438.6,266.1ZM438.6,288.9 442.1,288.4 443.0,292.4 439.5,293.0ZM413.1,353.1 418.3,347.8 425.4,346.1 433.3,347.0 439.5,344.3 444.7,342.6 450.0,346.1 446.5,351.4 450.9,356.6 457.0,360.2 453.5,366.3 446.5,368.1 435.9,368.9 427.1,367.2 418.3,365.4 413.1,360.2ZM441.2,342.6 446.5,339.9 451.8,342.6 448.2,346.1 443.8,345.7ZM466.7,346.1 471.1,342.6 478.2,344.3 482.6,342.6 486.1,346.1 483.4,353.1 479.9,356.6 482.6,363.7 486.1,368.9 487.0,372.5 471.1,372.5 469.4,365.4 465.8,358.4 465.0,351.4ZM335.7,363.7 342.7,368.1 355.0,367.2 361.2,361.0 365.6,363.7 374.4,368.9 376.1,372.5 335.7,372.5ZM375.2,359.3 381.4,360.2 388.4,365.4 393.7,372.5 383.2,372.5 379.6,366.3 374.4,362.8ZM421.9,427.7 425.4,424.2 426.3,426.8 422.7,429.5ZM332.1,469.0 334.8,468.7 335.3,473.4 332.5,474.0ZM433.3,480.5 435.6,481.0 435.9,485.8 433.8,485.2ZM335.7,358.2 369.1,358.2 370.0,362.1 370.8,365.3 374.4,367.9 378.8,371.4 380.5,375.8 381.4,379.3 376.1,379.7 369.4,379.0 365.6,382.0 361.2,382.0 351.5,382.9 339.2,383.7 333.9,386.4 320.7,386.7 318.1,383.7 321.6,380.2 328.6,377.6 333.0,374.1 333.9,367.0ZM384.0,369.7 385.8,363.5 389.3,367.9 392.8,372.3 393.7,377.6 396.3,382.0 399.0,375.8 400.7,370.6 406.0,368.8 409.5,365.3 411.3,370.6 409.5,377.6 414.8,381.1 420.1,383.7 427.1,382.0 433.3,382.9 434.2,386.4 431.5,395.2 429.8,401.3 423.6,401.5 414.8,402.2 406.0,399.6 397.2,396.9 391.1,397.8 387.6,404.0 381.4,402.2 374.4,397.8 367.3,395.2 362.9,391.7 364.7,386.4 361.2,382.0 365.6,382.0 370.5,381.5 374.4,382.5 381.4,379.3 383.2,373.2ZM411.3,358.2 453.5,358.2 453.5,365.3 444.7,367.0 434.2,365.3 423.6,366.2 414.8,367.9 411.7,364.4ZM470.2,358.2 487.0,358.2 486.1,365.3 484.3,374.1 485.2,382.0 479.9,382.9 474.6,381.1 472.0,374.1 473.8,367.0 471.1,363.5ZM372.6,358.2 383.2,358.2 385.8,363.5 384.0,369.7 379.6,365.3 374.4,361.8ZM422.7,494.1 428.0,493.7 428.9,498.5 426.3,501.1 422.7,499.3ZM414.8,502.0 416.6,502.0 419.2,511.7 420.1,516.9 418.3,516.9 416.2,509.9ZM428.5,519.6 430.3,519.6 431.5,529.2 431.0,532.8 429.2,531.0ZM409.5,541.6 414.5,538.9 415.2,540.2 410.4,543.3ZM419.2,535.9 424.5,536.3 424.5,537.7 419.7,537.7ZM413.1,516.1 415.2,516.1 414.8,519.6 412.7,519.0ZM419.2,487.0 421.5,486.2 421.9,487.9 419.7,489.1ZM384.0,497.2 386.3,497.6 385.8,500.2 384.0,499.7ZM612.6,173.9 619.6,170.4 623.2,173.0 621.4,177.4 616.1,182.7 612.6,180.0ZM542.2,231.0 546.6,226.6 551.0,228.4 550.1,235.4 547.5,242.5 544.0,242.5ZM623.2,323.2 630.2,319.7 635.5,314.4 639.0,307.4 639.9,305.6 640.7,308.3 638.1,314.4 633.7,320.6 627.6,325.0 624.0,325.9ZM526.4,240.6 533.4,238.8 537.8,233.5 538.7,228.2 542.2,228.2 541.3,237.0 536.9,242.3 529.9,244.9ZM638.6,262.5 646.0,264.3 645.1,270.5 640.7,272.2ZM610.0,290.7 615.2,288.0 620.5,289.8 619.6,294.2 614.4,292.4 610.8,293.3ZM619.6,295.1 622.3,296.0 623.2,300.4 620.5,299.5ZM620.0,310.9 622.8,310.6 623.2,315.8 620.5,316.2ZM612.1,325.9 614.4,325.3 614.4,329.9 612.2,330.3ZM565.4,335.5 568.6,334.1 569.5,339.9 566.5,340.8ZM590.1,329.9 593.6,329.4 594.1,332.0 590.6,332.4ZM687.9,311.3 692.6,310.0 691.8,314.1 688.2,315.3ZM751.6,372.5 705.8,372.5 707.6,368.9 711.1,363.7 716.4,356.6 721.7,349.6 727.0,339.0 728.7,328.5 727.0,319.7 723.4,314.4 716.4,316.2 710.2,312.7 711.1,308.3 718.2,305.6 723.4,300.4 728.7,293.3 735.7,288.0 744.5,285.9 751.6,284.5ZM546.1,360.9 552.4,361.4 551.9,363.5 546.6,363.2ZM517.6,367.0 522.0,367.4 521.8,369.1 517.6,368.8Z"/>
<path fill="#b1e4c1" stroke="#b1e4c1" stroke-width=".6" stroke-linejoin="round" d="M370.0,362.1 374.4,361.8 379.6,365.3 384.0,369.7 383.2,373.2 380.5,375.8 378.8,371.4 374.4,367.9 370.8,365.3ZM369.4,379.0 375.2,379.7 374.4,382.5 370.5,381.5ZM425.0,388.1 428.5,387.3 428.9,389.2 425.7,389.9ZM402.2,387.6 406.4,387.8 406.0,389.2 402.5,389.0ZM485.2,377.6 494.0,376.7 502.8,379.3 511.6,381.1 511.6,388.1 506.3,389.9 502.8,386.4 495.7,382.9 488.7,382.0ZM465.0,384.6 469.4,386.4 472.0,393.4 470.2,396.9 466.7,392.5ZM318.1,386.4 320.7,386.7 330.4,388.1 333.9,389.5 326.9,392.5 321.6,395.2 318.9,401.3 316.3,404.0 307.5,404.0 309.3,397.8 314.5,392.5ZM529.9,351.4 540.5,347.8 552.8,345.2 561.6,343.4 564.2,351.4 559.8,356.6 568.6,359.3 580.9,358.4 577.4,365.4 568.6,368.9 558.1,368.9 547.5,372.5 524.6,372.5 526.4,363.7ZM728.7,317.9 731.4,317.1 733.1,325.0 734.0,333.8 732.2,344.3 729.6,342.6 730.5,333.8 729.6,325.0ZM502.6,386.4 510.6,384.6 519.4,386.4 522.9,391.7 517.6,395.2 510.6,394.3 507.9,396.9 503.5,391.7ZM664.5,567.9 669.8,566.2 674.2,573.2 675.9,580.3 678.6,585.5 672.4,587.3 667.1,585.5 663.6,578.5ZM701.4,560.0 711.1,557.4 721.7,559.1 719.9,562.7 709.4,563.5 702.3,563.0Z"/>
<path fill="#cbf0d7" stroke="#cbf0d7" stroke-width=".6" stroke-linejoin="round" d="M443.0,378.5 453.5,378.5 458.8,381.1 464.1,386.4 469.4,395.2 465.8,393.4 458.8,388.1 451.8,384.6 444.7,382.9ZM654.5,579.4 658.3,578.5 663.6,583.8 666.3,592.6 661.9,592.6 656.6,585.5ZM741.9,578.5 746.3,575.0 751.6,573.2 751.6,609.3 744.5,607.5 741.0,594.3Z"/>
<path fill="#f5f2e6" stroke="#f5f2e6" stroke-width=".6" stroke-linejoin="round" d="M266.2,202.0 269.6,201.4 272.5,206.5 273.0,212.2 269.6,212.2 267.4,207.7ZM267.4,191.8 269.6,191.3 271.9,196.4 270.2,197.5ZM273.6,181.7 277.0,181.1 276.4,184.5 274.2,185.1ZM268.1,104.0 271.9,104.0 272.2,109.3 270.4,111.2 268.5,108.5ZM358.2,367.4 360.6,367.0 360.6,374.1 358.5,374.1ZM727.0,353.1 729.6,351.4 732.2,354.9 737.5,358.4 738.4,361.9 732.2,363.7 727.0,365.4 724.3,361.0Z"/>
<path fill="#a6d5fc" stroke="#a6d5fc" stroke-width=".6" stroke-linejoin="round" d="M539.1,348.2 544.0,346.1 552.8,345.2 558.9,346.1 558.1,348.2 549.3,348.7 541.3,351.4Z"/>
<rect x="26" y="492.15" width="725" height="1.35" fill="#8587ba" opacity=".92"/>
<rect x="324" y="491.9" width="20.5" height="1.8" fill="#6f6fa8" opacity=".85"/>
<circle cx="689.5" cy="384.6" r="27.3" fill="#003366" stroke="#8d95ab" stroke-width="1.1"/>
<circle cx="717.8" cy="383.2" r="15.1" fill="#003366" stroke="#8d95ab" stroke-width="1.1"/>
<circle cx="341.3" cy="346.1" r="20.7" fill="#003366" stroke="#8d95ab" stroke-width="1.1"/>
<circle cx="363.3" cy="327.3" r="11.1" fill="#003366" stroke="#8d95ab" stroke-width="1.1"/>
<circle cx="368.0" cy="358.4" r="5.2" fill="#003366" stroke="#8d95ab" stroke-width="1.1"/>
<circle cx="59.1" cy="373.7" r="18.6" fill="#003366" stroke="#8d95ab" stroke-width="1.1"/>
<text x="9.0" y="317.1" textLength="97.4" lengthAdjust="spacingAndGlyphs" style="font-size:12px;font-family:'Liberation Sans',sans-serif;font-weight:normal;" fill="#fff" stroke="#fff" stroke-width="2.6" stroke-opacity=".88" stroke-linejoin="round">NORTH AMERICA</text><text x="9.0" y="317.1" textLength="97.4" lengthAdjust="spacingAndGlyphs" style="font-size:12px;font-family:'Liberation Sans',sans-serif;font-weight:normal;" fill="#4a4a4a" stroke="#4a4a4a" stroke-width="0.35">NORTH AMERICA</text>
<text x="378.5" y="326.8" textLength="47.4" lengthAdjust="spacingAndGlyphs" style="font-size:12px;font-family:'Liberation Sans',sans-serif;font-weight:normal;" fill="#fff" stroke="#fff" stroke-width="2.6" stroke-opacity=".88" stroke-linejoin="round">EUROPE</text><text x="378.5" y="326.8" textLength="47.4" lengthAdjust="spacingAndGlyphs" style="font-size:12px;font-family:'Liberation Sans',sans-serif;font-weight:normal;" fill="#4a4a4a" stroke="#4a4a4a" stroke-width="0.35">EUROPE</text>
<text x="611.0" y="308.6" textLength="27.3" lengthAdjust="spacingAndGlyphs" style="font-size:12px;font-family:'Liberation Sans',sans-serif;font-weight:normal;" fill="#fff" stroke="#fff" stroke-width="2.6" stroke-opacity=".88" stroke-linejoin="round">ASIA</text><text x="611.0" y="308.6" textLength="27.3" lengthAdjust="spacingAndGlyphs" style="font-size:12px;font-family:'Liberation Sans',sans-serif;font-weight:normal;" fill="#4a4a4a" stroke="#4a4a4a" stroke-width="0.35">ASIA</text>
<text x="384.2" y="477.3" textLength="43.1" lengthAdjust="spacingAndGlyphs" style="font-size:12px;font-family:'Liberation Sans',sans-serif;font-weight:normal;" fill="#fff" stroke="#fff" stroke-width="2.6" stroke-opacity=".88" stroke-linejoin="round">AFRICA</text><text x="384.2" y="477.3" textLength="43.1" lengthAdjust="spacingAndGlyphs" style="font-size:12px;font-family:'Liberation Sans',sans-serif;font-weight:normal;" fill="#4a4a4a" stroke="#4a4a4a" stroke-width="0.35">AFRICA</text>
<text x="145.4" y="537.7" textLength="98.9" lengthAdjust="spacingAndGlyphs" style="font-size:12px;font-family:'Liberation Sans',sans-serif;font-weight:normal;" fill="#fff" stroke="#fff" stroke-width="2.6" stroke-opacity=".88" stroke-linejoin="round">SOUTH AMERICA</text><text x="145.4" y="537.7" textLength="98.9" lengthAdjust="spacingAndGlyphs" style="font-size:12px;font-family:'Liberation Sans',sans-serif;font-weight:normal;" fill="#4a4a4a" stroke="#4a4a4a" stroke-width="0.35">SOUTH AMERICA</text>
<text x="693.1" y="555.7" textLength="67.4" lengthAdjust="spacingAndGlyphs" style="font-size:13px;font-family:'Liberation Sans',sans-serif;font-weight:normal;" fill="#fff" stroke="#fff" stroke-width="2.6" stroke-opacity=".88" stroke-linejoin="round">AUSTRALIA</text><text x="693.1" y="555.7" textLength="67.4" lengthAdjust="spacingAndGlyphs" style="font-size:13px;font-family:'Liberation Sans',sans-serif;font-weight:normal;" fill="#4a4a4a" stroke="#4a4a4a" stroke-width="0.35">AUSTRALIA</text>
<text x="181.8" y="404.3" textLength="80.6" lengthAdjust="spacingAndGlyphs" style="font-size:11px;font-family:'Liberation Sans',sans-serif;font-weight:normal;font-style:italic;" fill="#5b7fb6" stroke="#5b7fb6" stroke-width="0.3">Atlantic Ocean</text>
<text x="520.7" y="555.1" textLength="71.3" lengthAdjust="spacingAndGlyphs" style="font-size:11px;font-family:'Liberation Sans',sans-serif;font-weight:normal;font-style:italic;" fill="#5b7fb6" stroke="#5b7fb6" stroke-width="0.3">Indian Ocean</text>
<rect x="37.1" y="587.0" width="7.6" height="7.4" fill="#f25022"/>
<rect x="45.8" y="587.0" width="7.6" height="7.4" fill="#7fba00"/>
<rect x="37.1" y="595.7" width="7.6" height="7.4" fill="#00a4ef"/>
<rect x="45.8" y="595.7" width="7.6" height="7.4" fill="#ffb900"/>
<text x="57.4" y="599.6" textLength="92.9" lengthAdjust="spacingAndGlyphs" style="font-size:13.5px;font-family:'Liberation Sans',sans-serif;font-weight:normal;" fill="#6e6e6e" stroke="#6e6e6e" stroke-width="0.25">Microsoft Azure</text>
<text x="622.8" y="599.6" textLength="71.2" lengthAdjust="spacingAndGlyphs" style="font-size:9.4px;font-family:'Liberation Sans',sans-serif;font-weight:normal;" fill="#fff" stroke="#fff" stroke-width="2.6" stroke-opacity=".88" stroke-linejoin="round">©2025 TomTom</text><text x="622.8" y="599.6" textLength="71.2" lengthAdjust="spacingAndGlyphs" style="font-size:9.4px;font-family:'Liberation Sans',sans-serif;font-weight:normal;" fill="#1e1e1e" stroke="#1e1e1e" stroke-width="0.15">©2025 TomTom</text>
<text x="698.1" y="599.6" textLength="42.5" lengthAdjust="spacingAndGlyphs" style="font-size:9.4px;font-family:'Liberation Sans',sans-serif;font-weight:normal;" fill="#fff" stroke="#fff" stroke-width="2.6" stroke-opacity=".88" stroke-linejoin="round">Feedback</text><text x="698.1" y="599.6" textLength="42.5" lengthAdjust="spacingAndGlyphs" style="font-size:9.4px;font-family:'Liberation Sans',sans-serif;font-weight:normal;" fill="#1e1e1e" stroke="#1e1e1e" stroke-width="0.15">Feedback</text>
<rect x="698.3" y="602.6" width="42" height="1.1" fill="#333"/>
</svg>
<span class="t" style="left:64.30px;top:642px;font-size:18.6px;line-height:21px;height:21px;color:#666666;transform:scaleX(0.9141);">Asia Pacific</span>
<span class="t" style="left:281.00px;top:642px;font-size:18.6px;line-height:21px;height:21px;color:#666666;transform:scaleX(0.9411);">Western Europe</span>
<span class="t" style="left:520.92px;top:642px;font-size:18.6px;line-height:21px;height:21px;color:#666666;transform:scaleX(0.9884);">North America</span>
<span class="t" style="left:36.81px;top:678px;font-size:57px;line-height:64px;height:64px;color:#003366;transform:scaleX(0.9445);font-weight:bold;">22.1K</span>
<span class="t" style="left:273.11px;top:678px;font-size:57px;line-height:64px;height:64px;color:#003366;transform:scaleX(0.9405);font-weight:bold;">15.3K</span>
<span class="t" style="left:523.64px;top:678px;font-size:57px;line-height:64px;height:64px;color:#003366;transform:scaleX(0.9424);font-weight:bold;">7.5K</span>
<div class="abs" style="left:785px;top:104.5px;width:609px;height:35.0px;background:#f3f3f3"></div>
<div class="abs" style="left:785px;top:139.50px;width:609px;height:22.62px;background:#ffffff"></div>
<div class="abs" style="left:790.7px;top:147.10px;width:10.3px;height:10.3px;border:1.4px solid #828282;"></div>
<div class="abs" style="left:793.2px;top:151.80px;width:5.4px;height:1.3px;background:#5e5e5e;"></div>
<span class="t" style="left:809.74px;top:143px;font-size:15.6px;line-height:17px;height:17px;color:#1b1b1b;transform:scaleX(0.9110);font-weight:bold;">Asia Pacific</span>
<span class="t" style="left:1023.39px;top:143px;font-size:15.6px;line-height:17px;height:17px;color:#1b1b1b;transform:scaleX(1.0108);font-weight:bold;">22,100</span>
<span class="t" style="left:1163.63px;top:143px;font-size:15.6px;line-height:17px;height:17px;color:#1b1b1b;transform:scaleX(1.0112);font-weight:bold;">22,110</span>
<span class="t" style="left:1348.30px;top:143px;font-size:15.6px;line-height:17px;height:17px;color:#1b1b1b;transform:scaleX(1.0012);font-weight:bold;">-0.0%</span>
<div class="abs" style="left:785px;top:161.82px;width:609px;height:22.62px;background:#ededed"></div>
<div class="abs" style="left:1216.80px;top:162.22px;width:177.20px;height:21.82px;background:#ffc7ce"></div>
<span class="t" style="left:821.07px;top:165px;font-size:15.6px;line-height:17px;height:17px;color:#2e2e2e;transform:scaleX(0.9244);">Japan</span>
<span class="t" style="left:1034.45px;top:165px;font-size:15.6px;line-height:17px;height:17px;color:#2e2e2e;transform:scaleX(0.9530);">5,010</span>
<span class="t" style="left:1173.95px;top:165px;font-size:15.6px;line-height:17px;height:17px;color:#2e2e2e;transform:scaleX(0.9530);">5,060</span>
<span class="t" style="left:1351.55px;top:165px;font-size:15.6px;line-height:17px;height:17px;color:#2e2e2e;transform:scaleX(0.9204);">-1.0%</span>
<div class="abs" style="left:785px;top:184.14px;width:609px;height:22.62px;background:#ffffff"></div>
<div class="abs" style="left:1216.80px;top:184.54px;width:177.20px;height:21.82px;background:#c6efce"></div>
<span class="t" style="left:820.12px;top:188px;font-size:15.6px;line-height:17px;height:17px;color:#2e2e2e;transform:scaleX(0.9412);">Republic of Korea</span>
<span class="t" style="left:1026.38px;top:188px;font-size:15.6px;line-height:17px;height:17px;color:#2e2e2e;transform:scaleX(0.9472);">17,090</span>
<span class="t" style="left:1165.88px;top:188px;font-size:15.6px;line-height:17px;height:17px;color:#2e2e2e;transform:scaleX(0.9472);">17,050</span>
<span class="t" style="left:1356.23px;top:188px;font-size:15.6px;line-height:17px;height:17px;color:#2e2e2e;transform:scaleX(0.9248);">0.2%</span>
<div class="abs" style="left:785px;top:206.46px;width:609px;height:22.62px;background:#ededed"></div>
<div class="abs" style="left:790.7px;top:214.06px;width:10.3px;height:10.3px;border:1.4px solid #828282;"></div>
<div class="abs" style="left:793.2px;top:218.76px;width:5.4px;height:1.3px;background:#5e5e5e;"></div>
<span class="t" style="left:809.22px;top:210px;font-size:15.6px;line-height:17px;height:17px;color:#1b1b1b;transform:scaleX(0.9764);font-weight:bold;">North America</span>
<span class="t" style="left:1031.75px;top:210px;font-size:15.6px;line-height:17px;height:17px;color:#1b1b1b;transform:scaleX(1.0168);font-weight:bold;">7,475</span>
<span class="t" style="left:1171.50px;top:210px;font-size:15.6px;line-height:17px;height:17px;color:#1b1b1b;transform:scaleX(1.0170);font-weight:bold;">7,480</span>
<span class="t" style="left:1348.30px;top:210px;font-size:15.6px;line-height:17px;height:17px;color:#1b1b1b;transform:scaleX(1.0012);font-weight:bold;">-0.1%</span>
<div class="abs" style="left:785px;top:228.78px;width:609px;height:22.62px;background:#ffffff"></div>
<div class="abs" style="left:1216.80px;top:229.18px;width:177.20px;height:21.82px;background:#ffc7ce"></div>
<span class="t" style="left:820.11px;top:232px;font-size:15.6px;line-height:17px;height:17px;color:#2e2e2e;transform:scaleX(0.9515);">United States</span>
<span class="t" style="left:1034.45px;top:232px;font-size:15.6px;line-height:17px;height:17px;color:#2e2e2e;transform:scaleX(0.9530);">7,475</span>
<span class="t" style="left:1173.95px;top:232px;font-size:15.6px;line-height:17px;height:17px;color:#2e2e2e;transform:scaleX(0.9530);">7,480</span>
<span class="t" style="left:1351.55px;top:232px;font-size:15.6px;line-height:17px;height:17px;color:#2e2e2e;transform:scaleX(0.9204);">-0.1%</span>
<div class="abs" style="left:785px;top:251.10px;width:609px;height:22.62px;background:#ededed"></div>
<div class="abs" style="left:790.7px;top:258.70px;width:10.3px;height:10.3px;border:1.4px solid #828282;"></div>
<div class="abs" style="left:793.2px;top:263.40px;width:5.4px;height:1.3px;background:#5e5e5e;"></div>
<span class="t" style="left:810.20px;top:254px;font-size:15.6px;line-height:17px;height:17px;color:#1b1b1b;transform:scaleX(0.9381);font-weight:bold;">Western Europe</span>
<span class="t" style="left:1023.38px;top:254px;font-size:15.6px;line-height:17px;height:17px;color:#1b1b1b;transform:scaleX(1.0111);font-weight:bold;">15,290</span>
<span class="t" style="left:1162.88px;top:254px;font-size:15.6px;line-height:17px;height:17px;color:#1b1b1b;transform:scaleX(1.0111);font-weight:bold;">15,400</span>
<span class="t" style="left:1348.30px;top:254px;font-size:15.6px;line-height:17px;height:17px;color:#1b1b1b;transform:scaleX(1.0012);font-weight:bold;">-0.7%</span>
<div class="abs" style="left:785px;top:273.42px;width:609px;height:22.62px;background:#ffffff"></div>
<div class="abs" style="left:1216.80px;top:273.82px;width:177.20px;height:21.82px;background:#ffc7ce"></div>
<span class="t" style="left:820.15px;top:277px;font-size:15.6px;line-height:17px;height:17px;color:#2e2e2e;transform:scaleX(0.9219);">France</span>
<span class="t" style="left:1034.45px;top:277px;font-size:15.6px;line-height:17px;height:17px;color:#2e2e2e;transform:scaleX(0.9530);">9,345</span>
<span class="t" style="left:1173.95px;top:277px;font-size:15.6px;line-height:17px;height:17px;color:#2e2e2e;transform:scaleX(0.9530);">9,350</span>
<span class="t" style="left:1351.55px;top:277px;font-size:15.6px;line-height:17px;height:17px;color:#2e2e2e;transform:scaleX(0.9204);">-0.1%</span>
<div class="abs" style="left:785px;top:295.74px;width:609px;height:22.62px;background:#ededed"></div>
<div class="abs" style="left:1216.80px;top:296.14px;width:177.20px;height:21.82px;background:#ffc7ce"></div>
<span class="t" style="left:820.60px;top:299px;font-size:15.6px;line-height:17px;height:17px;color:#2e2e2e;transform:scaleX(0.9360);">Germany</span>
<span class="t" style="left:1034.45px;top:299px;font-size:15.6px;line-height:17px;height:17px;color:#2e2e2e;transform:scaleX(0.9530);">3,465</span>
<span class="t" style="left:1173.95px;top:299px;font-size:15.6px;line-height:17px;height:17px;color:#2e2e2e;transform:scaleX(0.9530);">3,520</span>
<span class="t" style="left:1351.55px;top:299px;font-size:15.6px;line-height:17px;height:17px;color:#2e2e2e;transform:scaleX(0.9204);">-1.6%</span>
<div class="abs" style="left:785px;top:318.06px;width:609px;height:22.62px;background:#ffffff"></div>
<div class="abs" style="left:1216.80px;top:318.46px;width:177.20px;height:21.82px;background:#ffc7ce"></div>
<span class="t" style="left:819.78px;top:321px;font-size:15.6px;line-height:17px;height:17px;color:#2e2e2e;transform:scaleX(1.0111);">Italy</span>
<span class="t" style="left:1034.45px;top:321px;font-size:15.6px;line-height:17px;height:17px;color:#2e2e2e;transform:scaleX(0.9530);">2,480</span>
<span class="t" style="left:1173.95px;top:321px;font-size:15.6px;line-height:17px;height:17px;color:#2e2e2e;transform:scaleX(0.9530);">2,530</span>
<span class="t" style="left:1351.55px;top:321px;font-size:15.6px;line-height:17px;height:17px;color:#2e2e2e;transform:scaleX(0.9204);">-2.0%</span>
<div class="abs" style="left:785px;top:340.38px;width:609px;height:25.42px;background:#f1f1f1"></div>
<span class="t" style="left:810.54px;top:346px;font-size:15.6px;line-height:17px;height:17px;color:#003366;transform:scaleX(1.0561);font-weight:bold;">Total</span>
<span class="t" style="left:1018.03px;top:346px;font-size:15.6px;line-height:17px;height:17px;color:#003366;transform:scaleX(1.0979);font-weight:bold;">44,865</span>
<span class="t" style="left:1157.52px;top:346px;font-size:15.6px;line-height:17px;height:17px;color:#003366;transform:scaleX(1.1037);font-weight:bold;">44,990</span>
<span class="t" style="left:1346.03px;top:346px;font-size:15.6px;line-height:17px;height:17px;color:#003366;transform:scaleX(1.0502);font-weight:bold;">-0.3%</span>
<span class="t" style="left:789.52px;top:110px;font-size:15.5px;line-height:17px;height:17px;color:#666666;transform:scaleX(1.1317);font-weight:bold;">Title</span>
<span class="t" style="left:949.08px;top:110px;font-size:15.5px;line-height:17px;height:17px;color:#666666;transform:scaleX(1.0440);font-weight:bold;">Actual Volumes</span>
<span class="t" style="left:1081.95px;top:110px;font-size:15.5px;line-height:17px;height:17px;color:#666666;transform:scaleX(1.0495);font-weight:bold;">Budget Volumes</span>
<span class="t" style="left:1222.14px;top:110px;font-size:15.5px;line-height:17px;height:17px;color:#666666;transform:scaleX(1.0397);font-weight:bold;">Variance to Budget %</span>
<svg class="abs" style="left:790px;top:128px" width="14" height="8"><path d="M0.6 6.9 L6.35 0.8 L12.1 6.9 Z" fill="#666"/></svg>
<div class="abs" style="left:1076.20px;top:104.5px;width:1px;height:261.30px;background:#e2e2e2"></div>
<div class="abs" style="left:1215.70px;top:104.5px;width:1px;height:261.30px;background:#e2e2e2"></div>
<div class="abs" style="left:943.00px;top:104.5px;width:1px;height:35.00px;background:#e2e2e2"></div>
<div class="abs" style="left:785px;top:138.90px;width:609px;height:1.2px;background:#5b7fd0"></div>
<div class="abs" style="left:942.90px;top:139.5px;width:1.2px;height:226.30px;background:#5b7fd0"></div>
<span class="t" style="left:784.28px;top:422px;font-size:21.5px;line-height:24px;height:24px;color:#003366;transform:scaleX(0.9479);font-weight:bold;">Regional Performance: Actual vs Budget</span>
<div class="grid" style="top:516.80px"></div>
<span class="t" style="left:784.37px;top:508px;font-size:15.5px;line-height:17px;height:17px;color:#666666;transform:scaleX(0.9773);">20K</span>
<div class="grid" style="top:625.10px"></div>
<span class="t" style="left:784.35px;top:616px;font-size:15.5px;line-height:17px;height:17px;color:#666666;transform:scaleX(0.9782);">10K</span>
<div class="grid" style="top:733.40px"></div>
<span class="t" style="left:792.29px;top:725px;font-size:15.5px;line-height:17px;height:17px;color:#666666;transform:scaleX(0.9978);">0K</span>
<div class="abs" style="left:888.1px;top:494.56px;width:56.2px;height:239.34px;background:#004a99"></div>
<span class="t" style="left:897.15px;top:501px;font-size:15.5px;line-height:17px;height:17px;color:#ffffff;transform:scaleX(0.9344);">22.1K</span>
<div class="abs" style="left:958.2px;top:494.45px;width:56.2px;height:239.45px;background:#f2a900"></div>
<span class="t" style="left:967.25px;top:501px;font-size:15.5px;line-height:17px;height:17px;color:#ffffff;transform:scaleX(0.9344);">22.1K</span>
<div class="abs" style="left:1054.5px;top:568.31px;width:56.2px;height:165.59px;background:#004a99"></div>
<span class="t" style="left:1063.30px;top:575px;font-size:15.5px;line-height:17px;height:17px;color:#ffffff;transform:scaleX(0.9348);">15.3K</span>
<div class="abs" style="left:1125.0px;top:567.12px;width:56.2px;height:166.78px;background:#f2a900"></div>
<span class="t" style="left:1133.80px;top:574px;font-size:15.5px;line-height:17px;height:17px;color:#ffffff;transform:scaleX(0.9348);">15.4K</span>
<div class="abs" style="left:1221.3px;top:652.95px;width:56.2px;height:80.95px;background:#004a99"></div>
<span class="t" style="left:1234.18px;top:660px;font-size:15.5px;line-height:17px;height:17px;color:#ffffff;transform:scaleX(0.9427);">7.5K</span>
<div class="abs" style="left:1291.4px;top:652.89px;width:56.2px;height:81.01px;background:#f2a900"></div>
<span class="t" style="left:1304.28px;top:660px;font-size:15.5px;line-height:17px;height:17px;color:#ffffff;transform:scaleX(0.9427);">7.5K</span>
<span class="t" style="left:918.60px;top:739px;font-size:15.5px;line-height:17px;height:17px;color:#666666;transform:scaleX(0.9062);">Asia Pacific</span>
<span class="t" style="left:1069.10px;top:739px;font-size:15.5px;line-height:17px;height:17px;color:#666666;transform:scaleX(0.9360);">Western Europe</span>
<span class="t" style="left:1238.97px;top:739px;font-size:15.5px;line-height:17px;height:17px;color:#666666;transform:scaleX(0.9805);">North America</span>
<div class="abs" style="left:1039.15px;top:774.3px;width:11.2px;height:11.2px;border-radius:50%;background:#004a99"></div>
<div class="abs" style="left:1100.7px;top:774.3px;width:11.2px;height:11.2px;border-radius:50%;background:#f2a900"></div>
<span class="t" style="left:1052.80px;top:771px;font-size:15.5px;line-height:17px;height:17px;color:#666666;transform:scaleX(0.9647);">Actual</span>
<span class="t" style="left:1113.88px;top:771px;font-size:15.5px;line-height:17px;height:17px;color:#666666;transform:scaleX(0.9771);">Budget</span>
</body></html>
